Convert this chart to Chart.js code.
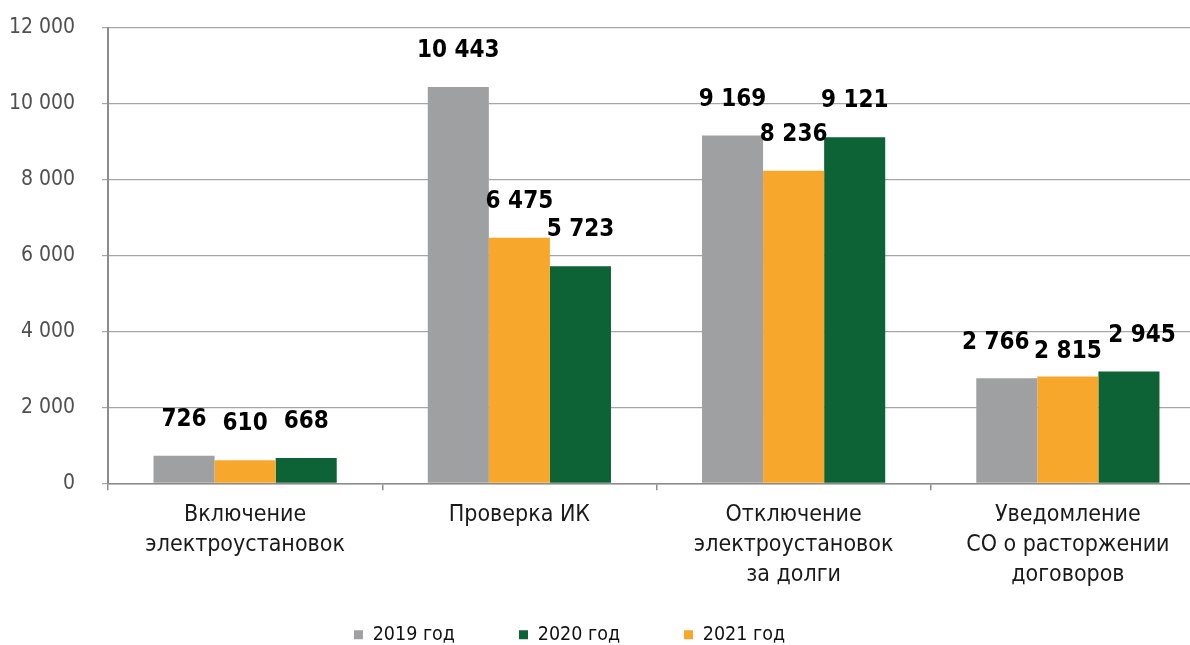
<!DOCTYPE html>
<html>
<head>
    <title>Chart</title>
    <script src="https://cdn.jsdelivr.net/npm/chart.js"></script>
    <style>
        html, body { margin: 0; padding: 0; background: #fff; overflow: hidden; }
        /* plot runs a little past the right edge, as in the original */
        #wrap { width: 1205px; height: 645px; }
    </style>
</head>
<body>
    <div id="wrap"><canvas id="barChart"></canvas></div>

    <script>
        const categories = [
            ['Включение', 'электроустановок'],
            ['Проверка ИК'],
            ['Отключение', 'электроустановок', 'за долги'],
            ['Уведомление', 'СО о расторжении', 'договоров']
        ];
        const values2019 = [726, 10443, 9169, 2766];
        const values2021 = [610, 6475, 8236, 2815];
        const values2020 = [668, 5723, 9121, 2945];
        const yTicks = [0, 2000, 4000, 6000, 8000, 10000, 12000];

        const fmt = v => String(v).replace(/\B(?=(\d{3})+(?!\d))/g, ' ');
        const FONT = 'DejaVu Sans Condensed';
        const LEGEND_GAP = 64;

        // bold value labels above each bar, nudged apart when they collide
        const valueLabels = {
            id: 'valueLabels',
            afterDatasetsDraw(chart) {
                const ctx = chart.ctx;
                ctx.save();
                ctx.font = 'bold 24px ' + FONT;
                ctx.fillStyle = '#000';
                ctx.textAlign = 'center';
                ctx.textBaseline = 'middle';
                const clash = (a, b) => Math.abs(a.x - b.x) < (a.w + b.w) / 2 + 4 && Math.abs(a.y - b.y) < 24;
                chart.data.labels.forEach((_, j) => {
                    const items = chart.data.datasets.map((ds, i) => {
                        const bar = chart.getDatasetMeta(i).data[j];
                        const text = fmt(ds.data[j]);
                        return { text, x: bar.x, y: bar.y - 36, w: ctx.measureText(text).width };
                    });
                    const [left, mid, right] = items;
                    if (clash(mid, left) || clash(mid, right)) mid.y += 11;
                    if (clash(left, mid)) left.x -= 11;
                    if (clash(right, mid)) right.x += 13;
                    items.forEach(it => ctx.fillText(it.text, it.x, it.y));
                });
                ctx.restore();
            }
        };

        // wide horizontal gaps in the legend without the matching vertical padding
        const legendSpacing = {
            id: 'legendSpacing',
            beforeLayout(chart) {
                const lg = chart.legend;
                if (lg && !lg._patched) {
                    const fit = lg.fit;
                    lg.fit = function () {
                        fit.call(this);
                        this.height = 45;
                    };
                    lg._patched = true;
                }
            },
            afterLayout(chart) {
                const lg = chart.legend;
                if (!lg) return;
                lg.top -= LEGEND_GAP - 25;
                lg.left -= 33;
                lg.right -= 33;
            }
        };

        new Chart(document.getElementById('barChart'), {
            type: 'bar',
            data: {
                labels: categories,
                datasets: [
                    { label: '2019 год', data: values2019, backgroundColor: '#9fa0a1' },
                    { label: '2021 год', data: values2021, backgroundColor: '#f7a82c' },
                    { label: '2020 год', data: values2020, backgroundColor: '#0d6236' }
                ]
            },
            options: {
                responsive: true,
                maintainAspectRatio: false,
                animation: false,
                datasets: { bar: { categoryPercentage: 0.668, barPercentage: 1 } },
                layout: { padding: 0 },
                plugins: {
                    tooltip: { enabled: false },
                    legend: {
                        position: 'bottom',
                        labels: {
                            sort: (a, b) => a.text.localeCompare(b.text),
                            boxWidth: 9,
                            boxHeight: 9,
                            padding: LEGEND_GAP,
                            color: '#111',
                            font: { family: FONT, size: 19.5 }
                        }
                    }
                },
                scales: {
                    x: {
                        grid: { display: true, drawOnChartArea: false, offset: true, tickLength: 7, color: '#8c8c8c', lineWidth: 1.5 },
                        border: { color: '#8c8c8c', width: 1.5 },
                        ticks: { color: '#1a1a1a', font: { family: FONT, size: 23, lineHeight: 1.3 }, padding: 10, maxRotation: 0 }
                    },
                    y: {
                        min: 0,
                        max: 12000,
                        afterBuildTicks: axis => { axis.ticks = yTicks.map(v => ({ value: v })); },
                        afterFit: axis => {
                            axis.width = 108;
                            axis.paddingTop = 28;
                        },
                        grid: { color: '#a6a6a6', lineWidth: 1.2, tickLength: 6 },
                        border: { color: '#8c8c8c', width: 2 },
                        ticks: { color: '#505050', font: { family: FONT, size: 21 }, padding: 27, callback: v => fmt(v) }
                    }
                }
            },
            plugins: [valueLabels, legendSpacing]
        });
    </script>
</body>
</html>
